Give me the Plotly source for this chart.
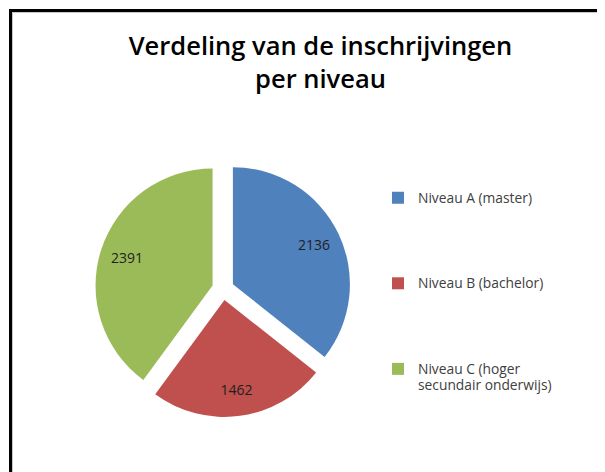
import plotly.graph_objects as go

# ---- data ----
categories = ["Niveau A (master)", "Niveau B (bachelor)", "Niveau C (hoger<br>secundair onderwijs)"]
values = [2136, 1462, 2391]
colors = ["#4F81BD", "#C0504D", "#9BBB59"]
title_text = "Verdeling van de inschrijvingen<br>per niveau"

# the page body has an 8px margin, so the figure is sized/positioned to fill the 605x472 window
OFF = 8
W, H = 605 - OFF, 472 - OFF
pull_frac = 0.094
legend_fs = 12.7      # controls line height (spacing between legend entries)
legend_text_fs = 13.8 # visible legend text size
pad_lines = 4         # extra spacer lines per legend entry

def pad(label):
    n = label.count("<br>") + 1
    body = label.replace("<br>", "</span><br><span style='font-size:%gpx'>" % legend_text_fs)
    body = "<span style='font-size:%gpx'>%s</span>" % (legend_text_fs, body)
    return body + "<br>\u00a0" * max(0, pad_lines + 1 - n)

legend_labels = [pad(c) for c in categories]

def px(x):
    return (x - OFF) / W

def py(y):
    return 1 - (y - OFF) / H

# pie placement in window pixels
cx, cy, r_outer = 223, 289, 128
dom_x = [px(cx - r_outer), px(cx + r_outer)]
dom_y = [py(cy + r_outer), py(cy - r_outer)]

fig = go.Figure()
fig.add_trace(go.Pie(
    labels=legend_labels,
    values=values,
    marker=dict(colors=colors, line=dict(width=0)),
    sort=False,
    direction="clockwise",
    rotation=0,
    pull=[pull_frac] * len(values),
    textinfo="none",
    domain=dict(x=dom_x, y=dom_y),
    customdata=[c.replace("<br>", " ") for c in categories],
    hovertemplate="%{customdata}: %{value}<extra></extra>",
))
# transparent ring copy used only to place the value labels further out in each slice
fig.add_trace(go.Pie(
    labels=legend_labels,
    values=values,
    marker=dict(colors=["rgba(0,0,0,0)"] * len(values), line=dict(width=0)),
    sort=False,
    direction="clockwise",
    rotation=0,
    pull=[pull_frac] * len(values),
    hole=0.54,
    textinfo="value",
    textposition="inside",
    insidetextorientation="horizontal",
    textfont=dict(family="Open Sans, sans-serif", size=14, color="#1f1f1f"),
    domain=dict(x=dom_x, y=dom_y),
    showlegend=False,
    hoverinfo="skip",
))

# frame lines (left and top)
shapes = [
    dict(type="line", xref="paper", yref="paper", x0=px(10.5), x1=px(10.5), y0=0, y1=py(9),
         line=dict(color="black", width=3)),
    dict(type="line", xref="paper", yref="paper", x0=px(9), x1=1, y0=py(10.5), y1=py(10.5),
         line=dict(color="black", width=3)),
    dict(type="line", xref="paper", yref="paper", x0=px(12.5), x1=px(12.5), y0=0, y1=py(12),
         line=dict(color="#c8c8c8", width=1)),
    dict(type="line", xref="paper", yref="paper", x0=px(12), x1=1, y0=py(12.5), y1=py(12.5),
         line=dict(color="#c8c8c8", width=1)),
]

fig.update_layout(
    width=W, height=H,
    margin=dict(l=0, r=0, t=0, b=0),
    paper_bgcolor="white",
    plot_bgcolor="white",
    title=dict(text=title_text, x=px(320.5), xanchor="center", y=py(55), yanchor="top",
               font=dict(family="Open Sans, sans-serif", size=25.5, color="black", weight=600)),
    legend=dict(x=px(378), xanchor="left", y=py(183), yanchor="top",
                valign="top", bgcolor="rgba(0,0,0,0)",
                font=dict(family="Open Sans, sans-serif", size=legend_fs, color="#404040"),
                traceorder="normal"),
    shapes=shapes,
)

fig.write_html("out.html")
